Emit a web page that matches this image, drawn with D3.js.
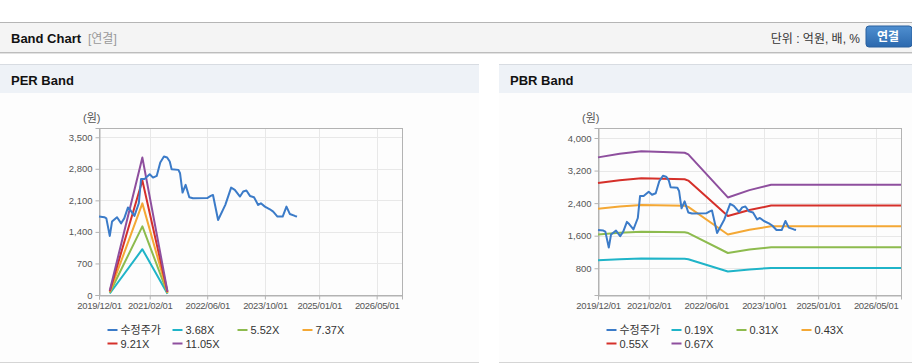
<!DOCTYPE html>
<html>
<head>
<meta charset="utf-8">
<script src="https://cdn.jsdelivr.net/npm/d3@7"></script>
<style>
  body { margin: 0; background: #fff; }
  svg text { font-family: "Liberation Sans", "Noto Sans CJK KR", sans-serif; }
</style>
</head>
<body>
<svg id="canvasSVG" width="912" height="364"></svg>
<script>
'use strict';

// 수정주가 (same series on both charts)
var priceDates = ["2019-12-01","2020-01-15","2020-02-01","2020-03-01","2020-03-20","2020-05-01","2020-06-05",
  "2020-07-01","2020-08-01","2020-08-20","2020-09-25","2020-11-01","2020-11-20","2020-12-20","2021-02-01",
  "2021-03-01","2021-04-01","2021-05-01","2021-06-01","2021-06-28","2021-07-20","2021-08-05","2021-10-01",
  "2021-10-15","2021-11-05","2021-12-01","2022-01-01","2022-02-01","2022-06-01","2022-07-01","2022-07-20",
  "2022-09-01","2022-11-01","2022-12-20","2023-01-20","2023-03-05","2023-04-01","2023-04-28","2023-05-28",
  "2023-07-01","2023-08-05","2023-08-28","2023-10-01","2023-11-12","2023-12-10","2024-01-15","2024-02-28",
  "2024-03-31","2024-04-28","2024-06-10","2024-06-28"];
var priceValues = [1740,1725,1700,1310,1628,1725,1590,
  1700,1940,1887,1754,2035,2576,2576,2680,
  2605,2642,2939,3072,3050,2960,2790,2776,
  2700,2272,2443,2169,2147,2150,2198,2220,
  1665,2000,2383,2332,2184,2295,2317,2198,
  2169,1998,2035,1961,1902,1850,1739,1739,
  1961,1798,1754,1739];

// PER band
var perBandDates = ["2020-03-01","2020-12-01","2021-07-01"];
var perBandNames = ["3.68X","5.52X","7.37X","9.21X","11.05X"];
var per368 = [33, 1016, 26];
var per552 = [50, 1523, 39];
var per737 = [66, 2033, 52];
var per921 = [83, 2541, 65];
var per1105 = [100, 3049, 78];

// PBR band
var pbrBandDates = ["2019-12-01","2020-06-01","2020-12-01","2021-12-01","2022-01-01","2022-12-01",
  "2023-06-01","2023-12-01","2026-12-01"];
var pbrBandNames = ["0.19X","0.31X","0.43X","0.55X","0.67X"];
var pbr019 = [999, 1024, 1041, 1032, 1020, 720, 771, 808, 808];
var pbr031 = [1631, 1671, 1699, 1683, 1665, 1175, 1259, 1319, 1319];
var pbr043 = [2262, 2318, 2356, 2335, 2309, 1630, 1746, 1830, 1830];
var pbr055 = [2893, 2965, 3014, 2987, 2954, 2085, 2233, 2340, 2340];
var pbr067 = [3524, 3611, 3672, 3638, 3598, 2540, 2720, 2851, 2851];

var xTickLabels = ["2019/12/01","2021/02/01","2022/06/01","2023/10/01","2025/01/01","2026/05/01"];
var perYTicks = [0, 700, 1400, 2100, 2800, 3500];
var pbrYTicks = [800, 1600, 2400, 3200, 4000];

var priceColor = "#3b7bc8";
var bandColors = ["#1fb4c8", "#8dbb4e", "#f4a835", "#d5302a", "#8e4f9e"];

var parseDate = d3.timeParse("%Y-%m-%d");
var parseTick = d3.timeParse("%Y/%m/%d");

var svg = d3.select("#canvasSVG");

// ---- top header ----
svg.append("rect").attr("x", 0).attr("y", 22).attr("width", 912).attr("height", 31).attr("fill", "#f4f4f4");
svg.append("line").attr("x1", 0).attr("x2", 912).attr("y1", 22.5).attr("y2", 22.5).attr("stroke", "#b5b5b5");
svg.append("line").attr("x1", 0).attr("x2", 912).attr("y1", 52.5).attr("y2", 52.5).attr("stroke", "#bdbdbd");
svg.append("line").attr("x1", 0).attr("x2", 912).attr("y1", 53.5).attr("y2", 53.5).attr("stroke", "#e2e2e2");

svg.append("text").attr("x", 11).attr("y", 43).attr("font-size", 13).attr("font-weight", "bold")
  .attr("fill", "#111").text("Band Chart");
svg.append("text").attr("x", 88).attr("y", 43).attr("font-size", 12).attr("fill", "#999").text("[연결]");
svg.append("text").attr("x", 860).attr("y", 43).attr("font-size", 12).attr("fill", "#333")
  .attr("text-anchor", "end").text("단위 : 억원, 배, %");

var grad = svg.append("defs").append("linearGradient").attr("id", "btnGrad")
  .attr("x1", 0).attr("x2", 0).attr("y1", 0).attr("y2", 1);
grad.append("stop").attr("offset", "0%").attr("stop-color", "#4f8fd0");
grad.append("stop").attr("offset", "100%").attr("stop-color", "#2c69ae");
svg.append("rect").attr("x", 866).attr("y", 26).attr("width", 46).attr("height", 21).attr("rx", 3)
  .attr("fill", "url(#btnGrad)").attr("stroke", "#2a609e");
svg.append("text").attr("x", 888).attr("y", 41).attr("font-size", 12).attr("font-weight", "bold")
  .attr("fill", "#fff").attr("text-anchor", "middle").text("연결");

// ---- one panel ----
function drawPanel(p) {
  var g = svg.append("g");

  g.append("rect").attr("x", p.px).attr("y", 64).attr("width", p.pw).attr("height", 298).attr("fill", "#fdfdfd");
  g.append("rect").attr("x", p.px).attr("y", 64).attr("width", p.pw).attr("height", 29).attr("fill", "#eef2f7");
  g.append("line").attr("x1", p.px).attr("x2", p.px + p.pw).attr("y1", 64.5).attr("y2", 64.5).attr("stroke", "#d8dce2");
  g.append("line").attr("x1", p.px).attr("x2", p.px + p.pw).attr("y1", 362.5).attr("y2", 362.5).attr("stroke", "#d5d5d5");
  g.append("text").attr("x", p.px + 11).attr("y", 85).attr("font-size", 13).attr("font-weight", "bold")
    .attr("fill", "#111").text(p.title);

  var left = p.left, right = p.left + 303, top = 128, bottom = 295;

  var x = d3.scaleTime()
    .domain([parseDate("2019-12-01"), parseDate("2026-12-01")])
    .range([left, right]);
  var y = d3.scaleLinear().domain(p.yDomain).range([bottom, top]);

  var tickDates = xTickLabels.map(function(t) { return parseTick(t); });

  // grid
  g.selectAll(".hgrid").data(p.yTicks).enter().append("line")
    .attr("x1", left).attr("x2", right)
    .attr("y1", function(d) { return Math.round(y(d)) + 0.5; })
    .attr("y2", function(d) { return Math.round(y(d)) + 0.5; })
    .attr("stroke", "#e8e8e8");
  g.selectAll(".vgrid").data(tickDates).enter().append("line")
    .attr("x1", function(d) { return Math.round(x(d)) + 0.5; })
    .attr("x2", function(d) { return Math.round(x(d)) + 0.5; })
    .attr("y1", top).attr("y2", bottom)
    .attr("stroke", "#e8e8e8");

  g.append("rect").attr("x", left + 0.5).attr("y", top + 0.5)
    .attr("width", right - left).attr("height", bottom - top)
    .attr("fill", "none").attr("stroke", "#b3b3b3");

  // axes
  var yAxis = d3.axisLeft(y).tickValues(p.yTicks).tickSize(4).tickPadding(3)
    .tickFormat(d3.format(","));
  var ya = g.append("g").attr("transform", "translate(" + (left + 0.5) + ",0)").call(yAxis);

  var xAxis = d3.axisBottom(x).tickValues(tickDates).tickSize(4).tickPadding(3)
    .tickFormat(function(d, i) { return xTickLabels[i]; });
  var xa = g.append("g").attr("transform", "translate(0," + (bottom + 0.5) + ")").call(xAxis);

  [ya, xa].forEach(function(a) {
    a.select(".domain").attr("stroke", "#b3b3b3");
    a.selectAll(".tick line").attr("stroke", "#b3b3b3");
    a.selectAll(".tick text").attr("fill", "#555").attr("font-size", 9.5)
      .attr("font-family", "Liberation Sans, sans-serif");
  });
  xa.selectAll(".tick text").attr("letter-spacing", "-0.3px");

  g.append("text").attr("x", left - 16).attr("y", 122).attr("font-size", 11).attr("fill", "#555")
    .text("(원)");

  // lines
  var line = d3.line()
    .x(function(d) { return x(d.date); })
    .y(function(d) { return y(d.value); });

  p.bands.forEach(function(vals, i) {
    var pts = vals.map(function(v, j) { return { date: parseDate(p.bandDates[j]), value: v }; });
    g.append("path").datum(pts).attr("d", line)
      .attr("fill", "none").attr("stroke", bandColors[i]).attr("stroke-width", 2)
      .attr("stroke-linejoin", "round");
  });

  var pricePts = priceValues.map(function(v, j) { return { date: parseDate(priceDates[j]), value: v }; });
  g.append("path").datum(pricePts).attr("d", line)
    .attr("fill", "none").attr("stroke", priceColor).attr("stroke-width", 2)
    .attr("stroke-linejoin", "round");

  // legend
  var items = [{ name: "수정주가", color: priceColor }].concat(p.bandNames.map(function(n, i) {
    return { name: n, color: bandColors[i] };
  }));
  var lg = g.selectAll(".leg").data(items).enter().append("g")
    .attr("transform", function(d, i) {
      var col = i % 4, row = Math.floor(i / 4);
      return "translate(" + (left + 8.5 + col * 65) + "," + (330 + row * 13.5) + ")";
    });
  lg.append("line").attr("x1", 0).attr("x2", 10).attr("y1", 0).attr("y2", 0)
    .attr("stroke", function(d) { return d.color; }).attr("stroke-width", 2);
  lg.append("text").attr("x", 13).attr("y", 4).attr("font-size", 11).attr("fill", "#333")
    .text(function(d) { return d.name; });
}

drawPanel({
  title: "PER Band", px: 0, pw: 479, left: 99,
  yDomain: [0, 3705], yTicks: perYTicks,
  bandDates: perBandDates, bandNames: perBandNames,
  bands: [per368, per552, per737, per921, per1105]
});

drawPanel({
  title: "PBR Band", px: 499, pw: 413, left: 598,
  yDomain: [143, 4246], yTicks: pbrYTicks,
  bandDates: pbrBandDates, bandNames: pbrBandNames,
  bands: [pbr019, pbr031, pbr043, pbr055, pbr067]
});
</script>
</body>
</html>
